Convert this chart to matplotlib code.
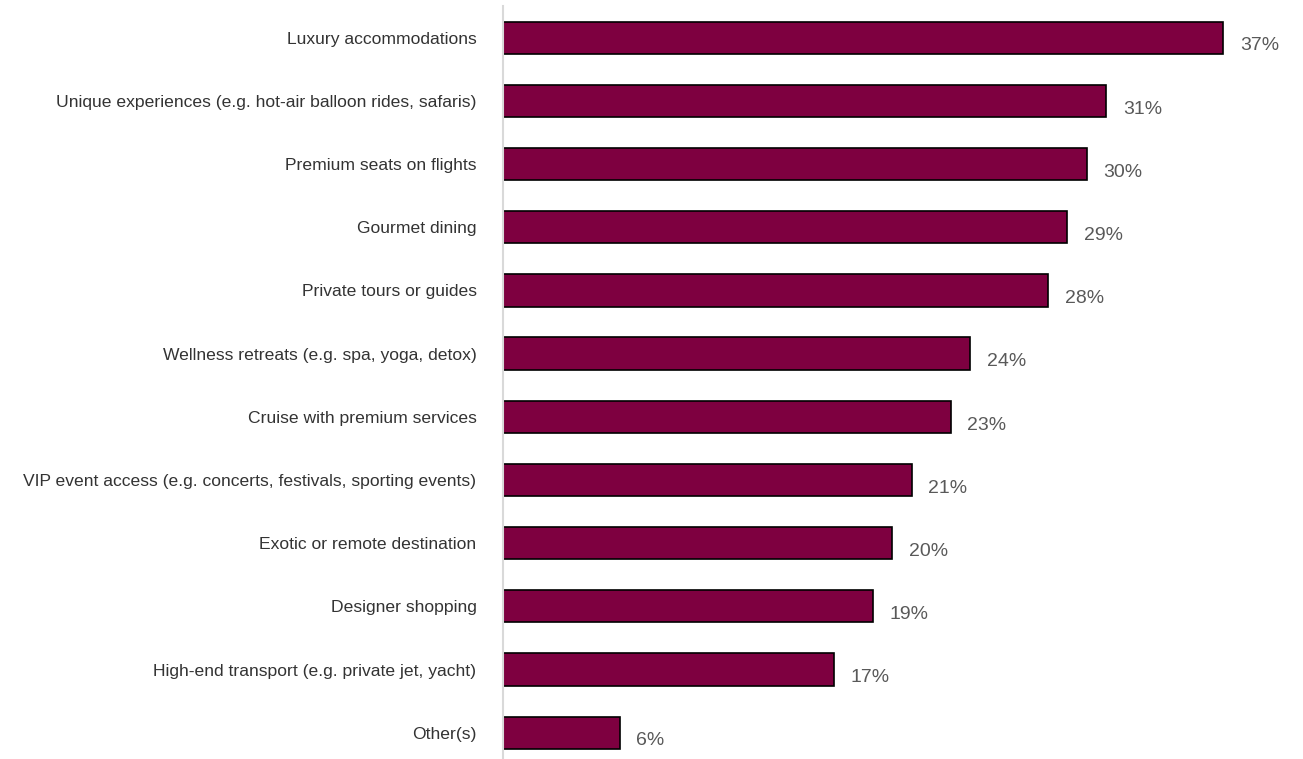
import matplotlib
matplotlib.use("Agg")
import matplotlib.pyplot as plt

plt.rcParams['font.family'] = ['Liberation Sans', 'DejaVu Sans']

# categories (top to bottom) and shares in %
categories = [
    "Luxury accommodations",
    "Unique experiences (e.g. hot-air balloon rides, safaris)",
    "Premium seats on flights",
    "Gourmet dining",
    "Private tours or guides",
    "Wellness retreats (e.g. spa, yoga, detox)",
    "Cruise with premium services",
    "VIP event access (e.g. concerts, festivals, sporting events)",
    "Exotic or remote destination",
    "Designer shopping",
    "High-end transport (e.g. private jet, yacht)",
    "Other(s)",
]
values = [37, 31, 30, 29, 28, 24, 23, 21, 20, 19, 17, 6]

fig = plt.figure(figsize=(13.03, 7.59), dpi=100)
ax = fig.add_axes([0.386, -0.007, 0.614, 0.999])

ypos = list(range(len(categories)))
ax.barh(ypos, values, height=0.51, color="#7E0040", edgecolor="black", linewidth=1.2)

# value labels sit a touch below bar centre, like the original
for y, v in zip(ypos, values):
    ax.text(v + 0.85, y + 0.13, f"{v}%", va="center", ha="left", fontsize=14, color="#595959")

ax.set_yticks(ypos)
ax.set_yticklabels(categories, fontsize=12.6, color="#333333")
ax.tick_params(axis="y", length=0, pad=19)
ax.set_xticks([])
ax.set_xlim(0, 41.1)
ax.set_ylim(len(categories) - 0.5, -0.5)

for s in ["top", "right", "bottom"]:
    ax.spines[s].set_visible(False)
ax.spines["left"].set_color("#d9d9d9")
ax.spines["left"].set_linewidth(1.5)

fig.savefig("out.png", dpi=100)
